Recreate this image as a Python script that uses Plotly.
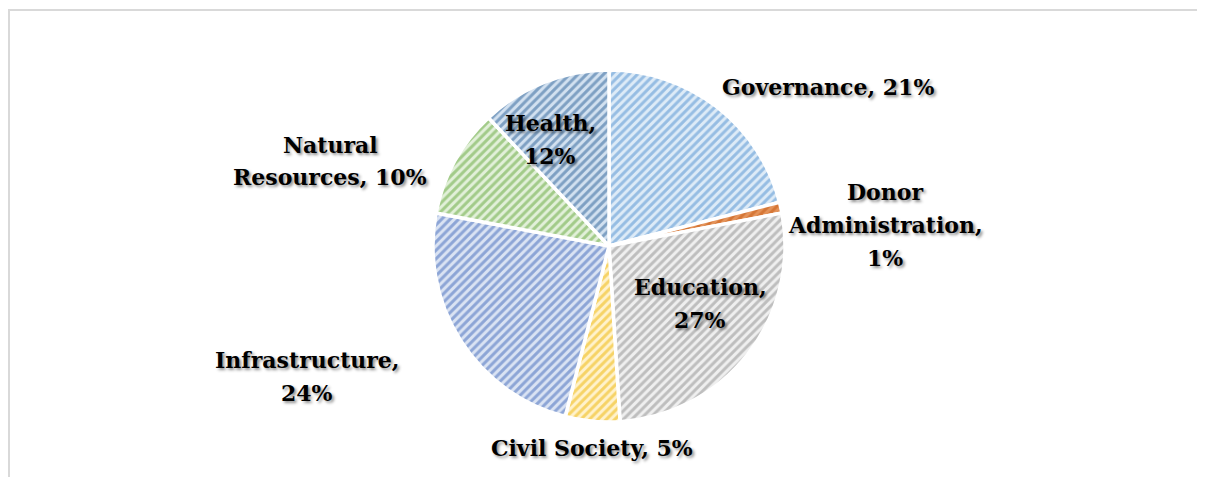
import plotly.graph_objects as go

labels = ["Governance", "Donor Administration", "Education", "Civil Society",
          "Infrastructure", "Natural Resources", "Health"]
values = [21, 1, 27, 5, 24, 10, 12]
# label text lines as broken in the reference
label_lines = [["Governance, 21%"], ["Donor", "Administration,", "1%"], ["Education,", "27%"],
               ["Civil Society, 5%"], ["Infrastructure,", "24%"], ["Natural", "Resources, 10%"],
               ["Health,", "12%"]]

fg_colors = ["#4F8FCF", "#C55A11", "#8E8E8E", "#EDB300", "#3F68BA", "#62A63A", "#2A5F96"]
bg_colors = ["#DDEBF7", "#E4935A", "#EFEFEF", "#FFF2CC", "#DAE3F3", "#E2F0D9", "#D2E1F0"]

OFF = 8  # page body margin
W, H = 1205 - OFF, 477 - OFF
cx, cy, R = 609 - OFF, 246 - OFF, 176

fig = go.Figure(go.Pie(
    labels=labels,
    values=values,
    sort=False,
    direction="clockwise",
    rotation=0,
    textinfo="none",
    hoverinfo="label+percent",
    showlegend=False,
    marker=dict(
        colors=bg_colors,
        line=dict(color="white", width=3.5),
        pattern=dict(shape="/", fgcolor=fg_colors, bgcolor=bg_colors,
                     size=6, solidity=0.5, fillmode="overlay"),
    ),
    domain=dict(x=[(cx - R) / W, (cx + R) / W], y=[(H - cy - R) / H, (H - cy + R) / H]),
))

# label anchor positions (pixel centres in the reference)
label_pos = [(828, 87), (885, 225), (700, 303), (592, 448), (307, 376), (330, 161), (550, 139)]
line_gap = 33

font = dict(family="DejaVu Serif", size=22, color="black", weight="bold",
            shadow="2px 2px 3px rgba(0,0,0,0.45)")
for lines, (px, py) in zip(label_lines, label_pos):
    n = len(lines)
    for i, ln in enumerate(lines):
        ly = py + (i - (n - 1) / 2) * line_gap
        fig.add_annotation(x=(px - OFF) / W, y=1 - (ly - OFF) / H, xref="paper", yref="paper",
                           text=ln, showarrow=False, font=font, align="center",
                           xanchor="center", yanchor="middle")

fig.update_layout(
    width=W, height=H,
    margin=dict(l=0, r=0, t=0, b=0),
    paper_bgcolor="white",
    plot_bgcolor="white",
    shapes=[
        dict(type="line", xref="paper", yref="paper", x0=0, x1=1, y0=1 - 2 / H, y1=1 - 2 / H,
             line=dict(color="#D9D9D9", width=2)),
        dict(type="line", xref="paper", yref="paper", x0=1 / W, x1=1 / W, y0=0, y1=1 - 2 / H,
             line=dict(color="#D9D9D9", width=2)),
    ],
)

fig.write_html("out.html")
